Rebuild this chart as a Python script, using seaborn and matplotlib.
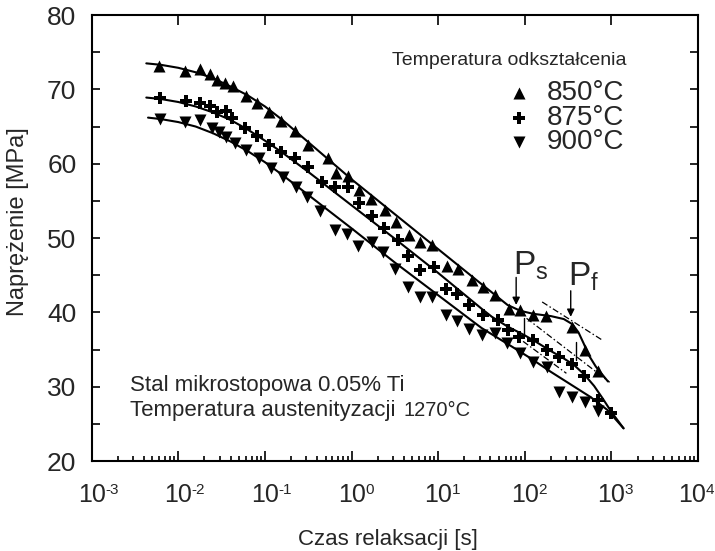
import numpy as np
import pandas as pd
import matplotlib
matplotlib.use("Agg")
import matplotlib.pyplot as plt
import matplotlib.transforms as mtransforms
from matplotlib.ticker import MultipleLocator, LogLocator, NullFormatter
import seaborn as sns

# ---------------- data ----------------
# measured points: log10(time [s]) and stress [MPa]
logt_850 = [-2.22, -1.92, -1.75, -1.64, -1.55, -1.46, -1.37, -1.22, -1.09, -0.95,
            -0.81, -0.65, -0.50, -0.27, -0.18, -0.04, 0.09, 0.22, 0.38, 0.51,
            0.66, 0.79, 0.93, 1.10, 1.23, 1.39, 1.52, 1.66, 1.82, 1.94,
            2.10, 2.25, 2.55, 2.69, 2.84]
sig_850 = [73.1, 72.5, 72.8, 72.1, 71.3, 70.9, 70.4, 69.1, 68.2, 67.0,
           65.7, 64.4, 62.5, 60.8, 58.7, 58.3, 56.4, 55.2, 53.8, 52.1,
           50.4, 49.4, 49.0, 46.2, 45.9, 44.4, 43.4, 42.3, 40.4, 40.3,
           39.7, 39.5, 38.0, 34.9, 32.1]

logt_875 = [-2.21, -1.91, -1.75, -1.64, -1.55, -1.45, -1.38, -1.23, -1.09, -0.95,
            -0.81, -0.65, -0.50, -0.34, -0.19, -0.04, 0.09, 0.23, 0.37, 0.54,
            0.65, 0.79, 0.95, 1.09, 1.22, 1.35, 1.52, 1.69, 1.81, 1.93,
            2.10, 2.26, 2.40, 2.54, 2.68, 2.84, 3.00]
sig_875 = [68.8, 68.4, 68.1, 67.7, 66.9, 67.1, 66.1, 64.8, 63.7, 62.5,
           61.6, 60.8, 59.6, 57.6, 56.9, 56.9, 54.7, 52.9, 51.4, 49.7,
           47.6, 45.7, 46.1, 43.2, 42.5, 41.0, 39.6, 39.0, 37.6, 36.7,
           36.3, 35.0, 34.0, 33.1, 31.5, 28.2, 26.5]

logt_900 = [-2.21, -1.92, -1.75, -1.61, -1.53, -1.45, -1.35, -1.22, -1.07, -0.93,
            -0.79, -0.64, -0.51, -0.37, -0.19, -0.05, 0.07, 0.23, 0.36, 0.50,
            0.65, 0.79, 0.93, 1.09, 1.22, 1.36, 1.50, 1.66, 1.79, 1.94,
            2.10, 2.26, 2.40, 2.54, 2.70, 2.84]
sig_900 = [66.0, 65.6, 65.9, 64.8, 64.3, 63.6, 62.8, 61.8, 60.7, 59.4,
           58.2, 56.9, 55.5, 53.6, 51.1, 50.6, 48.9, 49.4, 48.1, 45.9,
           43.4, 42.0, 42.0, 39.6, 38.9, 37.8, 36.9, 37.2, 35.9, 34.6,
           33.3, 32.7, 29.3, 28.6, 27.9, 26.7]

# fitted curves, points
fit_logt_850 = [-2.37, -2.2, -2.0, -1.8, -1.6, -1.4, -1.2, -1.0, -0.8, -0.5, 0.0, 0.5,
                1.0, 1.5, 1.8, 1.95, 2.1, 2.3, 2.45, 2.55, 2.62, 2.68, 2.74, 2.82, 2.96]
fit_sig_850 = [73.5, 73.3, 72.9, 72.3, 71.5, 70.4, 69.2, 67.7, 65.9, 62.9, 57.9, 53.2,
               48.5, 43.8, 41.0, 40.2, 39.8, 39.5, 39.1, 38.4, 37.3, 35.8, 34.2, 32.7, 30.7]

fit_logt_875 = [-2.37, -2.2, -2.0, -1.8, -1.6, -1.4, -1.2, -1.0, -0.8, -0.5, 0.0, 0.5,
                1.0, 1.5, 1.62, 1.8, 2.0, 2.12, 2.3, 2.45, 2.57, 2.69, 2.8, 2.9, 3.0, 3.14]
fit_sig_875 = [68.9, 68.7, 68.3, 67.7, 66.9, 65.9, 64.6, 63.1, 61.5, 58.9, 54.4, 49.9,
               45.3, 40.5, 39.4, 38.1, 36.9, 36.1, 34.8, 33.8, 32.9, 31.6, 30.1, 28.4, 26.6, 24.4]

fit_logt_900 = [-2.35, -2.2, -2.0, -1.8, -1.6, -1.4, -1.2, -1.0, -0.8, -0.5, 0.0, 0.5,
                1.0, 1.5, 1.85, 2.07, 2.3, 2.53, 2.76, 2.95, 3.14]
fit_sig_900 = [66.2, 66.0, 65.6, 65.0, 64.1, 63.0, 61.7, 60.2, 58.5, 55.8, 51.3, 46.7,
               42.3, 37.9, 35.4, 33.8, 32.0, 30.3, 28.6, 26.9, 24.4]

# construction (dash-dot) lines: [log t start, log t end], [stress start, stress end]
tangent_a_logt = [2.20, 2.89]
tangent_a_sig = [41.4, 36.3]
tangent_b_logt = [2.02, 2.98]
tangent_b_sig = [39.2, 30.6]
tangent_c_logt = [1.98, 2.48]
tangent_c_sig = [36.1, 31.8]
# small vertical markers (875 curve) : log t, stress top, stress bottom
vmark_logt = [1.985, 2.595]
vmark_top = [39.2, 36.0]
vmark_bot = [37.0, 33.6]
# arrows Ps / Pf on 850 curve
arrow_logt = [1.90, 2.53]
arrow_top = [44.7, 42.9]
arrow_tip = [41.0, 39.4]
arrow_labels = [r"$\mathregular{P_s}$", r"$\mathregular{P_f}$"]
label_logt = [1.86, 2.50]
label_sig = [45.1, 43.6]

temps = ["850°C", "875°C", "900°C"]
markers = ["^", "P", "v"]
x_exponents = [-3, -2, -1, 0, 1, 2, 3, 4]

# ---------------- style ----------------
sns.set_theme(style="ticks")
plt.rcParams["font.family"] = ["Liberation Sans", "DejaVu Sans"]
plt.rcParams["mathtext.fontset"] = "custom"
plt.rcParams["mathtext.rm"] = "Liberation Sans"
plt.rcParams["mathtext.it"] = "Liberation Sans:italic"
plt.rcParams["mathtext.bf"] = "Liberation Sans:bold"
plt.rcParams["axes.linewidth"] = 1.5

fig = plt.figure(figsize=(7.15, 5.51), dpi=100)
ax = fig.add_axes([0.1283, 0.1633, 0.848, 0.8094])

pts = pd.concat([
    pd.DataFrame({"t": 10.0 ** np.array(logt_850), "s": sig_850, "T": temps[0]}),
    pd.DataFrame({"t": 10.0 ** np.array(logt_875), "s": sig_875, "T": temps[1]}),
    pd.DataFrame({"t": 10.0 ** np.array(logt_900), "s": sig_900, "T": temps[2]}),
])
fits = [(fit_logt_850, fit_sig_850), (fit_logt_875, fit_sig_875), (fit_logt_900, fit_sig_900)]

for (lt, sg) in fits:
    df = pd.DataFrame({"t": 10.0 ** np.array(lt), "s": sg})
    sns.lineplot(data=df, x="t", y="s", ax=ax, color="black", lw=1.5,
                 sort=False, estimator=None)

for T, m in zip(temps, markers):
    sub = pts[pts["T"] == T]
    sns.scatterplot(data=sub, x="t", y="s", ax=ax, marker=m, color="black",
                    s=75 if m != "P" else 70, linewidth=0, zorder=3)

dd = (0, (5, 2, 1.2, 2))
for lt, sg in [(tangent_a_logt, tangent_a_sig), (tangent_b_logt, tangent_b_sig),
               (tangent_c_logt, tangent_c_sig)]:
    ax.plot(10.0 ** np.array(lt), sg, color="black", lw=0.9, ls=dd)

for lt, a, b in zip(vmark_logt, vmark_top, vmark_bot):
    ax.plot([10.0 ** lt, 10.0 ** lt], [a, b], color="black", lw=1.0)

for lt, a, b in zip(arrow_logt, arrow_top, arrow_tip):
    ax.annotate("", xy=(10.0 ** lt, b), xytext=(10.0 ** lt, a),
                arrowprops=dict(arrowstyle="-|>", color="black", lw=1.0,
                                mutation_scale=11, shrinkA=0, shrinkB=0))
for txt, lt, sg in zip(arrow_labels, label_logt, label_sig):
    ax.text(10.0 ** lt, sg, txt, fontsize=24, ha="left", va="baseline")

# ---------------- axes ----------------
ax.set_xscale("log")
ax.set_ylim(20, 80)
ax.yaxis.set_major_locator(MultipleLocator(10))
ax.yaxis.set_minor_locator(MultipleLocator(5))
xticks = [10.0 ** e for e in x_exponents]
ax.set_xticks(xticks, ["10"] * len(xticks))
ax.xaxis.set_minor_locator(LogLocator(base=10, subs=np.arange(2, 10), numticks=100))
ax.xaxis.set_minor_formatter(NullFormatter())
ax.set_xlim(1e-3, 1e4)

ax.tick_params(which="both", direction="in", top=True, right=True, width=1.2, color="black")
ax.tick_params(axis="x", which="major", length=7, labelsize=18, pad=16)
ax.tick_params(axis="x", which="minor", length=3.6, top=False)
ax.tick_params(axis="y", which="both", length=6, labelsize=19, pad=11)
for sp in ax.spines.values():
    sp.set_color("black")

# exponents of the x tick labels (small superscripts to the right of "10")
blend = mtransforms.blended_transform_factory(ax.transData, ax.transAxes)
for e, tk in zip(x_exponents, xticks):
    dx = 13.5 / 100.0
    if e == 4:
        dx = 7.5 / 100.0
    off = mtransforms.ScaledTranslation(dx, 0, fig.dpi_scale_trans)
    ax.text(tk, -0.064, str(e), transform=blend + off,
            fontsize=11, ha="left", va="center", clip_on=False)
# shift the last "10" slightly left so it stays in the frame
labs = ax.get_xticklabels()
shift = mtransforms.ScaledTranslation(-6.0 / 100.0, 0, fig.dpi_scale_trans)
labs[-1].set_transform(labs[-1].get_transform() + shift)

ax.set_xlabel("Czas relaksacji [s]", fontsize=16)
ax.set_ylabel("Naprężenie [MPa]", fontsize=17)
ax.xaxis.set_label_coords(0.489, -0.177)
ax.xaxis.label.set_va("center")
ax.yaxis.set_label_coords(-0.122, 0.536)
ax.yaxis.label.set_va("center")

# legend block (drawn manually to match the layout)
ax.text(0.496, 0.899, "Temperatura odkształcenia", transform=ax.transAxes,
        fontsize=14, ha="left", va="center")
rows_y = [0.825, 0.769, 0.715]
for m, T, yy in zip(markers, temps, rows_y):
    ax.scatter([0.704], [yy], marker=m, s=75, color="black", linewidth=0,
               transform=ax.transAxes, clip_on=False)
    ax.text(0.75, yy, T, transform=ax.transAxes, fontsize=20, ha="left", va="center")

ax.text(0.063, 0.170, "Stal mikrostopowa 0.05% Ti", transform=ax.transAxes,
        fontsize=16, ha="left", va="center")
ax.text(0.063, 0.114, "Temperatura austenityzacji", transform=ax.transAxes,
        fontsize=16, ha="left", va="center")
ax.text(0.515, 0.114, "1270°C", transform=ax.transAxes,
        fontsize=14.5, ha="left", va="center")

fig.savefig("out.png", dpi=100)
